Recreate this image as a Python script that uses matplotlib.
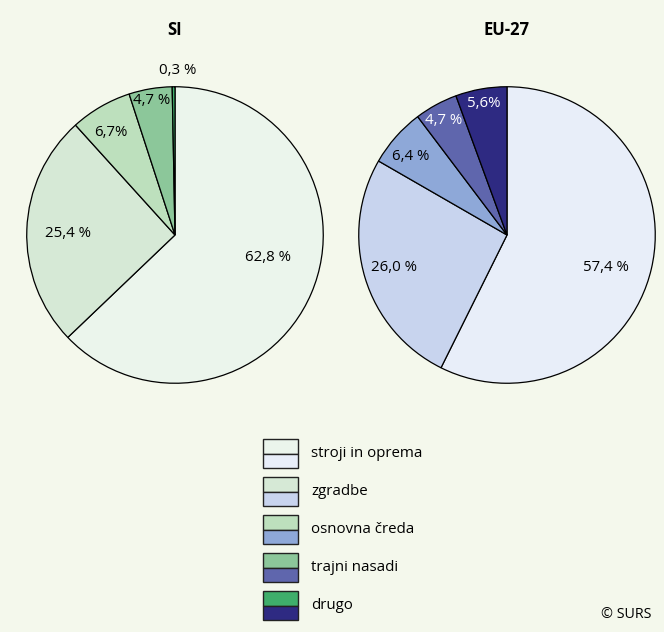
import numpy as np
import matplotlib.pyplot as plt
from matplotlib.patches import Rectangle

plt.rcParams['font.family'] = ['Open Sans', 'DejaVu Sans']

categories = ['stroji in oprema', 'zgradbe', 'osnovna čreda', 'trajni nasadi', 'drugo']
si_values = [62.8, 25.4, 6.7, 4.7, 0.3]
eu_values = [57.4, 26.0, 6.4, 4.7, 5.6]
si_labels = ['62,8 %', '25,4 %', '6,7%', '4,7 %', '0,3 %']
eu_labels = ['57,4 %', '26,0 %', '6,4 %', '4,7 %', '5,6%']

si_colors = ['#ebf5ec', '#d6e9d6', '#bde0bd', '#8cc79a', '#3fae6b']
eu_colors = ['#e8eef9', '#c8d4ee', '#8ea8d8', '#5f66ad', '#2e2a82']

# label positions in pie units (radius = 1)
si_pos = [(0.63, -0.155), (-0.72, 0.01), (-0.43, 0.69), (-0.16, 0.91), (0.02, 1.11)]
eu_pos = [(0.67, -0.22), (-0.76, -0.22), (-0.65, 0.53), (-0.43, 0.77), (-0.16, 0.89)]
si_txt = ['black'] * 5
eu_txt = ['black', 'black', 'black', 'white', 'white']

W, H = 664, 632
bg = '#f4f8ec'
fig = plt.figure(figsize=(W / 100, H / 100), dpi=100, facecolor=bg)


def pie_axes(cx, cy, r):
    return fig.add_axes([(cx - r) / W, (H - cy - r) / H, 2 * r / W, 2 * r / H])


for cx, title, vals, cols, labs, pos, tc in [
        (175, 'SI', si_values, si_colors, si_labels, si_pos, si_txt),
        (507, 'EU-27', eu_values, eu_colors, eu_labels, eu_pos, eu_txt)]:
    ax = pie_axes(cx, 235, 149)
    ax.pie(vals, colors=cols, startangle=90, counterclock=False,
           wedgeprops=dict(edgecolor='black', linewidth=0.9))
    ax.set_xlim(-1.005, 1.005)
    ax.set_ylim(-1.005, 1.005)
    ax.set_aspect('equal')
    ax.axis('off')
    for lab, (x, y), c in zip(labs, pos, tc):
        ax.text(x, y, lab, ha='center', va='center', fontsize=10.8, color=c)
    fig.text(cx / W, 1 - 30 / H, title, ha='center', va='center',
             fontsize=12, fontweight='bold')

# legend: two-tone boxes (SI top, EU bottom)
for i, cat in enumerate(categories):
    top = 439 + 38 * i
    for j, col in enumerate([si_colors[i], eu_colors[i]]):
        y0 = top + j * 14.5
        fig.patches.append(Rectangle((263 / W, 1 - (y0 + 14.5) / H), 35 / W, 14.5 / H,
                                     transform=fig.transFigure, facecolor=col,
                                     edgecolor='#222222', linewidth=1))
    fig.text(311 / W, 1 - (top + 14.5) / H, cat, ha='left', va='center', fontsize=10.8)

fig.text(651 / W, 1 - 614 / H, '© SURS', ha='right', va='center', fontsize=10.3)

fig.savefig('out.png', dpi=100, facecolor=bg)
